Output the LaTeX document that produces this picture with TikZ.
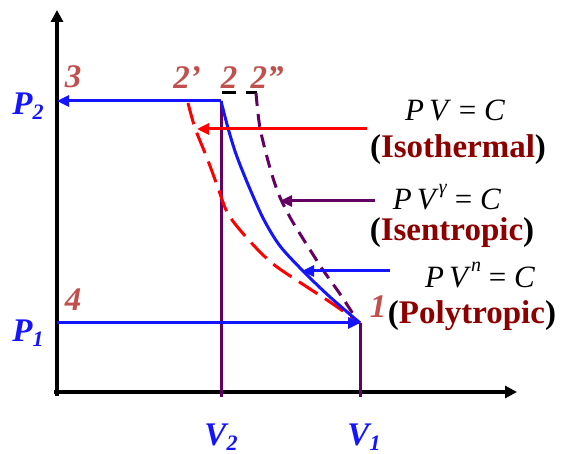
\documentclass[tikz,border=0pt]{standalone}
\usepackage{fontspec}
\setmainfont{Liberation Serif}
\usetikzlibrary{arrows.meta}
\definecolor{labred}{RGB}{192,80,77}
\definecolor{darkred}{RGB}{140,0,0}
\definecolor{pblue}{RGB}{20,20,255}
\definecolor{ppurple}{RGB}{100,0,100}
\tikzset{
  axis/.style={line width=3.5pt,-{Triangle[length=12pt,width=12pt]}},
  proc/.style={line width=3pt,-{Triangle[length=12pt,width=11pt]}},
  ptlabel/.style={inner sep=0pt,text=labred,font=\fontsize{33}{33}\selectfont\bfseries\itshape},
  axlabel/.style={inner sep=0pt,text=pblue,font=\fontsize{33}{33}\selectfont\bfseries\itshape},
  eqlabel/.style={inner sep=0pt,font=\fontsize{31}{31}\selectfont},
  namelabel/.style={inner sep=0pt,font=\fontsize{33}{33}\selectfont\bfseries},
}
\newcommand{\sub}[1]{\raisebox{-0.35ex}{\fontsize{22}{22}\selectfont #1}}
\begin{document}
\begin{tikzpicture}[x=1pt,y=-1pt]
\useasboundingbox (0,0) rectangle (563,454);
% key points
\coordinate (one) at (360,323);
\coordinate (two) at (221,101);
\coordinate (three) at (57,101);
\coordinate (four) at (57,323);
\coordinate (v2b) at (221,397);
\coordinate (v1b) at (360,397);
\coordinate (origin) at (57,396);
\coordinate (ytop) at (57,10);
\coordinate (xs) at (54,392);
\coordinate (xend) at (517,392);
\coordinate (tdA) at (222,93);
\coordinate (tdB) at (257,93);
% axes
\draw[axis] (origin) -- (ytop);
\draw[axis] (xs) -- (xend);
% volume lines
\draw[ppurple,line width=3pt] (two) -- (v2b);
\draw[ppurple,line width=3pt] (one) -- (v1b);
% top black dashes
\draw[black,line width=3pt,dash pattern=on 14pt off 10pt] (tdA) -- (tdB);
% isothermal (red dashed)
\draw[red,line width=3pt,dash pattern=on 22pt off 9pt] plot[smooth,tension=0.5] coordinates {(188,103) (195,128) (207,158) (217,185) (227,212) (240,230) (260,252) (277,267) (307,287) (330,302) (360,323)};
% isentropic (purple dashed)
\draw[ppurple,line width=3pt,dash pattern=on 13pt off 8pt] plot[smooth,tension=0.5] coordinates {(256,93) (260,128) (270,168) (279,195) (291,219) (307,245) (323,270) (340,294) (357,320)};
% polytropic (blue)
\draw[pblue,line width=3pt] plot[smooth,tension=0.5] coordinates {(221,101) (228,128) (236,154) (247,182) (263,218) (280,246) (305,273) (330,297) (360,323)};
% process arrows
\draw[proc,pblue] (two) -- (three);
\draw[proc,pblue] (four) -- (one);
% pointer arrows
\coordinate (rA) at (367,129); \coordinate (rB) at (197,129);
\coordinate (pA) at (375,201); \coordinate (pB) at (280,201);
\coordinate (bA) at (390,271); \coordinate (bB) at (302,271);
\draw[proc,red] (rA) -- (rB);
\draw[proc,ppurple] (pA) -- (pB);
\draw[proc,pblue] (bA) -- (bB);
% point labels
\node[ptlabel] (l3) at (73,77) {3};
\node[ptlabel] (l2p) at (187,78) {2’};
\node[ptlabel] (l2) at (229,78) {2};
\node[ptlabel] (l2pp) at (267,78) {2”};
\node[ptlabel] (l4) at (73,300) {4};
\node[ptlabel] (l1) at (378,307) {1};
% axis labels
\node[axlabel] (P2) at (28,106) {P\sub{2}};
\node[axlabel] (P1) at (28,333) {P\sub{1}};
\node[axlabel] (V2) at (221,437) {V\sub{2}};
\node[axlabel] (V1) at (364,437) {V\sub{1}};
% equations
\node[eqlabel] (e1) at (455,110) {\textit{P\,V} = \textit{C}};
\node[namelabel] (n1) at (458,150) {(\textcolor{darkred}{Isothermal})};
\node[eqlabel] (e2) at (447,197) {\textit{P\,V}\raisebox{1.1ex}{\fontsize{20}{20}\selectfont\textit{γ}} = \textit{C}};
\node[namelabel] (n2) at (452,233) {(\textcolor{darkred}{Isentropic})};
\node[eqlabel] (e3) at (480,275) {\textit{P\,V}\raisebox{1.1ex}{\fontsize{20}{20}\selectfont\textit{n}} = \textit{C}};
\node[namelabel] (n3) at (472,316) {(\textcolor{darkred}{Polytropic})};
\end{tikzpicture}
\end{document}
